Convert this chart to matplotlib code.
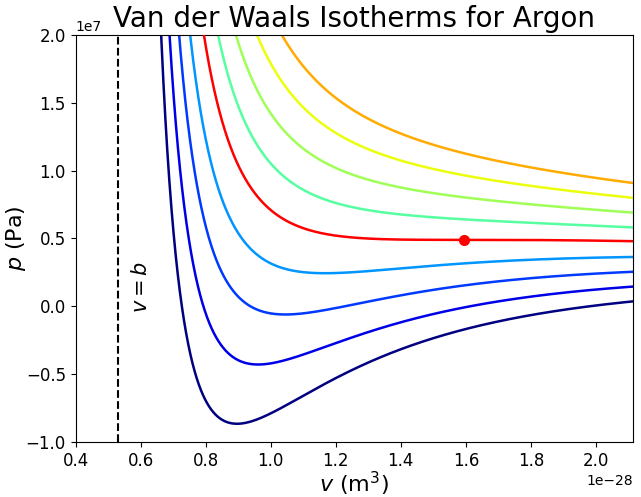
import numpy as np
import matplotlib
matplotlib.use("Agg")
import matplotlib.pyplot as plt

# Argon van der Waals constants (per molecule)
k_B = 1.380649e-23          # J/K
N_A = 6.02214076e23
a_mol = 0.1355              # Pa m^6 / mol^2
b_mol = 3.201e-5            # m^3 / mol
a = a_mol / N_A**2
b = b_mol / N_A

T_c = 8 * a / (27 * k_B * b)
v_c = 3 * b
p_c = a / (27 * b**2)

# Isotherm temperatures (K); the middle one is the critical isotherm
temperatures = [100.0, 112.5, 125.0, 137.5, T_c, 162.5, 175.0, 187.5, 200.0]
color_index = [0, 1, 2, 3, None, 5, 6, 7, 8]

x_limits = (0.4e-28, 2.115e-28)
y_limits = (-1e7, 2e7)

fig = plt.figure(figsize=(6.41, 4.97), dpi=100)
ax = fig.add_axes([0.118, 0.1107, 0.870, 0.8189])

v = np.linspace(b * 1.02, 2.3e-28, 3000)
for T, ci in zip(temperatures, color_index):
    p = k_B * T / (v - b) - a / v**2
    if ci is None:
        ax.plot(v, p, color='red', lw=1.8, zorder=3)
    else:
        ax.plot(v, p, color=plt.cm.jet(ci / 11), lw=1.8)

ax.plot([v_c], [p_c], 'o', color='red', ms=7, zorder=4)
ax.axvline(b, color='black', ls='--', lw=1.5)
ax.text(0.571e-28, 0.143e7, '$v = b$', rotation=90, ha='left', va='center', fontsize=15)

ax.set_xlim(*x_limits)
ax.set_ylim(*y_limits)
ax.set_title('Van der Waals Isotherms for Argon', fontsize=20)
ax.set_xlabel('$v$ (m$^3$)', fontsize=16, labelpad=0)
ax.set_ylabel('$p$ (Pa)', fontsize=16, labelpad=-2)
ax.tick_params(labelsize=12)
ax.xaxis.get_offset_text().set_fontsize(10)
ax.yaxis.get_offset_text().set_fontsize(10)

fig.savefig('out.png', dpi=100)
